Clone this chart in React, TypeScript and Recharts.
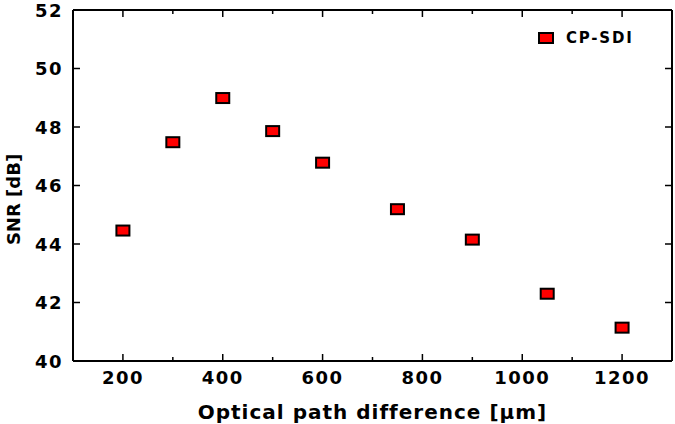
import { Legend, Scatter, ScatterChart, XAxis, YAxis } from "recharts";

const opd = [200, 300, 400, 500, 600, 750, 900, 1050, 1200];
const snr = [44.46, 47.48, 48.99, 47.86, 46.78, 45.19, 44.15, 42.3, 41.14];
const xTicks = [200, 300, 400, 500, 600, 700, 800, 900, 1000, 1100, 1200];
const yTicks = [40, 42, 44, 46, 48, 50, 52];
const seriesName = "CP-SDI";

const data = opd.map((x, i) => ({ x, y: snr[i] }));

const FONT = "'DejaVu Sans', sans-serif";

const Marker = (props: any) => {
  const { cx, cy } = props;
  if (cx == null || cy == null) return null;
  return <rect x={cx - 6.5} y={cy - 5} width={13} height={10} fill="#ff0000" stroke="#000" strokeWidth={2} />;
};

const BottomTick = (props: any) => {
  const { x, y, payload } = props;
  const major = payload.value % 200 === 0;
  return (
    <g>
      <line x1={x} y1={y} x2={x} y2={y - (major ? 7 : 4)} stroke="#000" strokeWidth={1.5} />
      {major ? (
        <text x={x} y={y + 23} textAnchor="middle" fontFamily={FONT} fontWeight="bold" fontSize={18} letterSpacing={1.5} fill="#000">
          {payload.value}
        </text>
      ) : null}
    </g>
  );
};

const TopTick = (props: any) => {
  const { x, y, payload } = props;
  const major = payload.value % 200 === 0;
  return <line x1={x} y1={y} x2={x} y2={y + (major ? 7 : 4)} stroke="#000" strokeWidth={1.5} />;
};

const LeftTick = (props: any) => {
  const { x, y, payload } = props;
  return (
    <g>
      <line x1={x} y1={y} x2={x + 7} y2={y} stroke="#000" strokeWidth={1.5} />
      <text x={x - 10} y={y + 6.5} textAnchor="end" fontFamily={FONT} fontWeight="bold" fontSize={18} letterSpacing={1.5} fill="#000">
        {payload.value}
      </text>
    </g>
  );
};

const RightTick = (props: any) => {
  const { x, y } = props;
  return <line x1={x} y1={y} x2={x - 7} y2={y} stroke="#000" strokeWidth={1.5} />;
};

const LegendBox = () => (
  <div style={{ display: "flex", alignItems: "center", fontFamily: FONT, fontWeight: "bold", fontSize: 15, letterSpacing: 1.8, color: "#000", whiteSpace: "nowrap" }}>
    <svg width={16} height={12} style={{ marginRight: 12 }}>
      <rect x={1} y={1} width={14} height={10} fill="#ff0000" stroke="#000" strokeWidth={2} />
    </svg>
    {seriesName}
  </div>
);

export default function App() {
  const axisLine = { stroke: "#000", strokeWidth: 2 };
  return (
    <div style={{ position: "absolute", left: 0, top: 0, width: 675, height: 424, background: "#fff" }}>
      <ScatterChart width={675} height={424} margin={{ top: 9, right: 2, bottom: 8, left: 8 }}>
        <XAxis
          xAxisId="bottom"
          type="number"
          dataKey="x"
          domain={[100, 1300]}
          ticks={xTicks}
          interval={0}
          height={55}
          tickSize={0}
          tickMargin={0}
          tickLine={false}
          axisLine={axisLine}
          tick={<BottomTick />}
          label={{ value: "Optical path difference [\u00b5m]", position: "insideBottom", offset: -3, style: { fontFamily: FONT, fontWeight: "bold", fontSize: 20, letterSpacing: 1, fill: "#000" } }}
        />
        <XAxis
          xAxisId="top"
          orientation="top"
          type="number"
          dataKey="x"
          domain={[100, 1300]}
          ticks={xTicks}
          interval={0}
          height={1}
          tickSize={0}
          tickMargin={0}
          tickLine={false}
          axisLine={axisLine}
          tick={<TopTick />}
        />
        <YAxis
          yAxisId="left"
          type="number"
          dataKey="y"
          domain={[40, 52]}
          ticks={yTicks}
          interval={0}
          width={65}
          tickSize={0}
          tickMargin={0}
          tickLine={false}
          axisLine={axisLine}
          tick={<LeftTick />}
          label={{ value: "SNR [dB]", angle: -90, position: "insideLeft", offset: 0, dx: 6, dy: 14, style: { fontFamily: FONT, fontWeight: "bold", fontSize: 18, fill: "#000", textAnchor: "middle" } }}
        />
        <YAxis
          yAxisId="right"
          orientation="right"
          type="number"
          dataKey="y"
          domain={[40, 52]}
          ticks={yTicks}
          interval={0}
          width={1}
          tickSize={0}
          tickMargin={0}
          tickLine={false}
          axisLine={axisLine}
          tick={<RightTick />}
        />
        <Legend
          layout="vertical"
          align="center"
          verticalAlign="middle"
          content={<LegendBox />}
          wrapperStyle={{ top: 29, left: 538, width: 130 }}
        />
        <Scatter
          name={seriesName}
          data={data}
          xAxisId="bottom"
          yAxisId="left"
          shape={<Marker />}
          isAnimationActive={false}
        />
        <Scatter data={data} xAxisId="top" yAxisId="right" shape={() => <g />} legendType="none" isAnimationActive={false} />
      </ScatterChart>
    </div>
  );
}
